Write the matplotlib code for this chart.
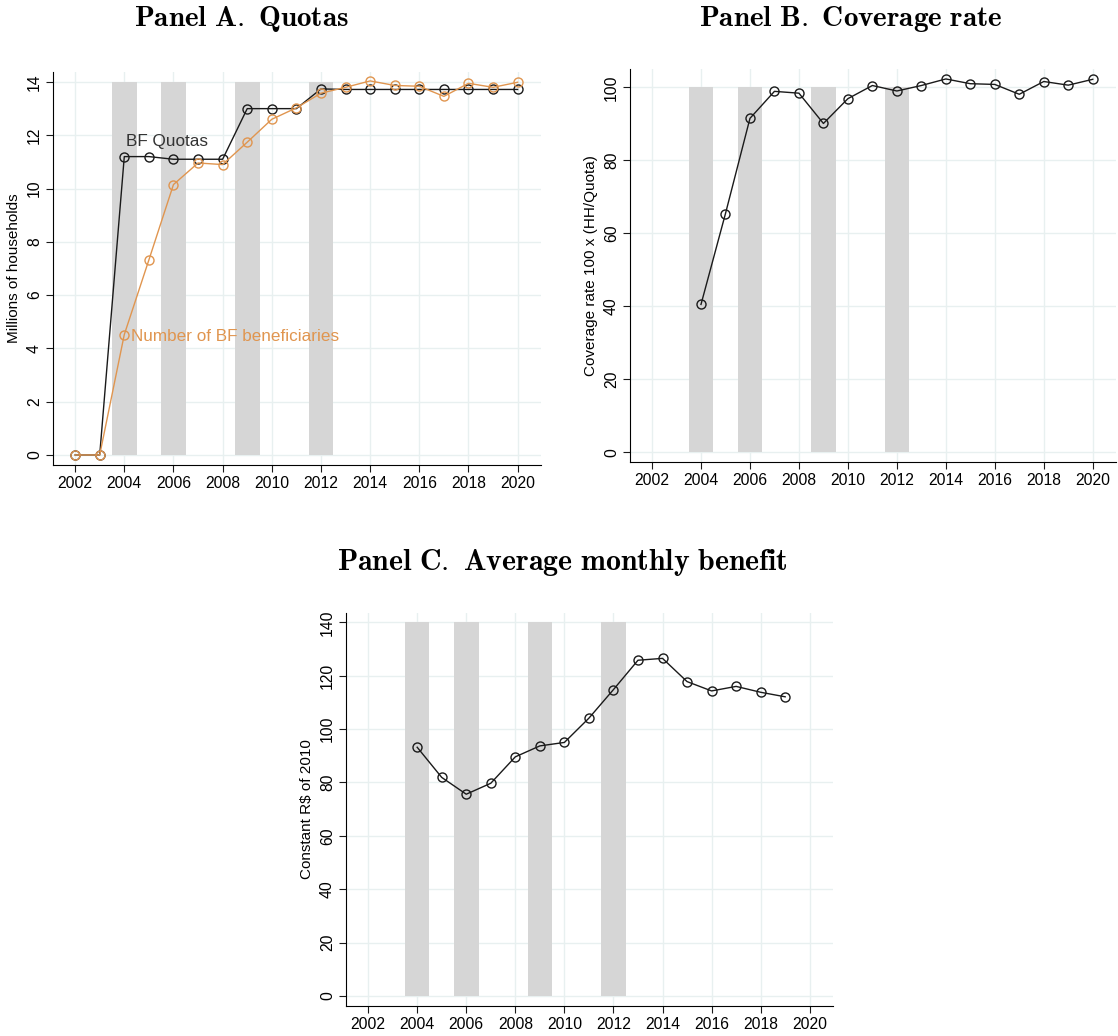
import matplotlib
matplotlib.use("Agg")
import matplotlib.pyplot as plt
import numpy as np

plt.rcParams['font.family'] = ['Liberation Sans', 'DejaVu Sans']
plt.rcParams['mathtext.fontset'] = 'cm'

# data
years = list(range(2002, 2021))
quotas = [0, 0, 11.2, 11.2, 11.1, 11.1, 11.1, 13.0, 13.0, 13.0, 13.74,
          13.72, 13.72, 13.72, 13.72, 13.72, 13.72, 13.72, 13.72]
beneficiaries = [0, 0, 4.52, 7.32, 10.15, 10.96, 10.9, 11.74, 12.6, 13.03, 13.58,
                 13.8, 14.04, 13.87, 13.84, 13.46, 13.95, 13.8, 13.99]

cov_years = list(range(2004, 2021))
coverage = [40.5, 65.4, 91.5, 98.9, 98.4, 90.1, 96.9, 100.5, 99.0, 100.5,
            102.3, 101.0, 100.8, 98.1, 101.6, 100.6, 102.2]

ben_years = list(range(2004, 2020))
benefit = [93.2, 81.9, 75.6, 79.7, 89.6, 93.7, 95.0, 104.1, 114.8, 125.8,
           126.5, 117.8, 114.3, 116.0, 113.8, 112.1]

shade_years = [2004, 2006, 2009, 2012]
xticks = list(range(2002, 2021, 2))

ORANGE = '#e0954f'
BLACK = '#1a1a1a'
GRID = '#e8f0f0'
SHADE = '#d6d6d6'


def style_axis(ax, ymax, ystep, ylim, ylabel):
    for yr in shade_years:
        ax.fill_between([yr - 0.5, yr + 0.5], 0, ymax, color=SHADE, lw=0, zorder=1)
    ax.set_xlim(2001.1, 2020.95)
    ax.set_ylim(*ylim)
    ax.set_xticks(xticks)
    ax.set_yticks(np.arange(0, ymax + 0.1, ystep))
    ax.grid(True, color=GRID, lw=1, zorder=0)
    ax.set_axisbelow(True)
    for s in ['top', 'right']:
        ax.spines[s].set_visible(False)
    ax.tick_params(labelsize=11.3, length=5, pad=3, color=BLACK)
    for lab in ax.get_yticklabels():
        lab.set_rotation(90)
        lab.set_va('center')
    ax.set_ylabel(ylabel, fontsize=11, labelpad=4)


fig = plt.figure(figsize=(11.18, 10.36), dpi=100)

# Panel A
axA = fig.add_axes([0.0474, 0.5512, 0.4365, 0.3793])
style_axis(axA, 14, 2, (-0.375, 14.375), 'Millions of households')
axA.plot(years, quotas, color=BLACK, lw=1, marker='o', mfc='none',
         mec=BLACK, ms=6.5, mew=1, zorder=3)
axA.plot(years, beneficiaries, color=ORANGE, lw=1, marker='o', mfc='none',
         mec=ORANGE, ms=6.5, mew=1, zorder=3)
axA.text(2004.08, 11.75, 'BF Quotas', color='#333333', fontsize=12.3, va='center')
axA.text(2004.28, 4.45, 'Number of BF beneficiaries', color=ORANGE,
         fontsize=12.3, va='center')
fig.text(0.216, 0.982, r'$\mathbf{Panel\ A.\ Quotas}$', ha='center', va='center',
         fontsize=21)

# Panel B
axB = fig.add_axes([0.5635, 0.554, 0.4347, 0.3793])
style_axis(axB, 100, 20, (-2.7, 105), 'Coverage rate 100 x (HH/Quota)')
axB.plot(cov_years, coverage, color=BLACK, lw=1, marker='o', mfc='none',
         mec=BLACK, ms=6.5, mew=1, zorder=3)
fig.text(0.761, 0.982, r'$\mathbf{Panel\ B.\ Coverage\ rate}$', ha='center',
         va='center', fontsize=21)

# Panel C
axC = fig.add_axes([0.3095, 0.029, 0.4356, 0.3793])
style_axis(axC, 140, 20, (-3.74, 143.5), 'Constant R$ of 2010')
axC.plot(ben_years, benefit, color=BLACK, lw=1, marker='o', mfc='none',
         mec=BLACK, ms=6.5, mew=1, zorder=3)
fig.text(0.503, 0.457, r'$\mathbf{Panel\ C.\ Average\ monthly\ benefit}$',
         ha='center', va='center', fontsize=21.5)

fig.savefig('out.png', dpi=100)
